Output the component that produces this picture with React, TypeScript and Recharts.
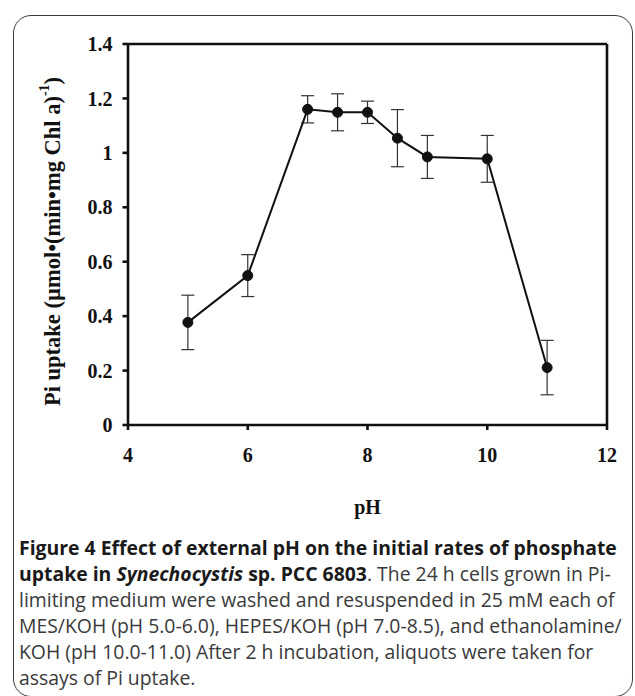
import { CartesianGrid, ErrorBar, Line, LineChart, ReferenceLine, XAxis, YAxis } from 'recharts';

// pH of the buffer and Pi uptake rate
const phValues = [5, 6, 7, 7.5, 8, 8.5, 9, 10, 11];
const uptake = [0.377, 0.549, 1.16, 1.149, 1.149, 1.054, 0.985, 0.978, 0.211];
const uptakeErr = [0.1, 0.077, 0.05, 0.068, 0.041, 0.105, 0.079, 0.086, 0.1];

const xTicks = [4, 6, 8, 10, 12];
const yTicks = [0, 0.2, 0.4, 0.6, 0.8, 1, 1.2, 1.4];

const captionLines = [
  { bold: 'Figure 4 Effect of external pH on the initial rates of phosphate', rest: '' },
  { bold: 'uptake in ', italic: 'Synechocystis', bold2: ' sp. PCC 6803', rest: '. The 24 h cells grown in Pi-' },
  { rest: 'limiting medium were washed and resuspended in 25 mM each of' },
  { rest: 'MES/KOH (pH 5.0-6.0), HEPES/KOH (pH 7.0-8.5), and ethanolamine/' },
  { rest: 'KOH (pH 10.0-11.0) After 2 h incubation, aliquots were taken for' },
  { rest: 'assays of Pi uptake.' },
];

const serif = '"Liberation Serif", "Times New Roman", serif';
const tickStyle = { fontFamily: serif, fontWeight: 700, fontSize: 20, fill: '#111' };

function YTitle({ viewBox }: any) {
  const cx = 52;
  const cy = viewBox.y + viewBox.height / 2 + 7;
  return (
    <text
      x={cx}
      y={cy}
      transform={`rotate(-90 ${cx} ${cy})`}
      textAnchor="middle"
      dominantBaseline="central"
      style={{ fontFamily: serif, fontWeight: 700, fontSize: 22.5, fill: '#111' }}
    >
      Pi uptake (µmol•(min•mg Chl a)
      <tspan dy={-8} fontSize={14}>-1</tspan>
      <tspan dy={8}>)</tspan>
    </text>
  );
}

function XTitle({ viewBox }: any) {
  return (
    <text
      x={viewBox.x + viewBox.width / 2}
      y={507}
      textAnchor="middle"
      dominantBaseline="central"
      style={{ fontFamily: serif, fontWeight: 700, fontSize: 20, fill: '#111' }}
    >
      pH
    </text>
  );
}

export default function App() {
  const data = phValues.map((ph, i) => ({ ph, v: uptake[i], err: uptakeErr[i] }));

  return (
    <div style={{ position: 'absolute', left: 0, top: 0, width: 635, height: 696, background: '#fff', overflow: 'hidden' }}>
      <div
        style={{
          position: 'absolute',
          left: 13,
          top: 15,
          width: 618,
          height: 680,
          border: '1.5px solid #3a3a3a',
          borderRadius: 18,
        }}
      />
      <div style={{ position: 'absolute', left: 0, top: 0 }}>
        <LineChart width={635} height={696} data={data} margin={{ top: 44, right: 28, bottom: 231, left: 68 }}>
          <CartesianGrid stroke="none" />
          <XAxis
            dataKey="ph"
            type="number"
            domain={[4, 12]}
            ticks={xTicks}
            height={40}
            stroke="#111"
            strokeWidth={2.6}
            tickSize={5}
            tickMargin={18}
            tick={tickStyle}
            label={<XTitle />}
          />
          <YAxis
            type="number"
            domain={[0, 1.4]}
            ticks={yTicks}
            width={60}
            stroke="#111"
            strokeWidth={2.6}
            tickSize={5.5}
            tickMargin={10}
            tick={tickStyle}
            label={<YTitle />}
          />
          <ReferenceLine y={1.4} stroke="#111" strokeWidth={2.6} />
          <ReferenceLine x={12} stroke="#111" strokeWidth={2.6} />
          <Line
            dataKey="v"
            stroke="#111"
            strokeWidth={2}
            isAnimationActive={false}
            dot={{ r: 5, fill: '#111', stroke: '#111', strokeWidth: 1 }}
          >
            <ErrorBar dataKey="err" width={6.5} stroke="#333" strokeWidth={1.2} direction="y" />
          </Line>
        </LineChart>
      </div>
      <div
        style={{
          position: 'absolute',
          left: 19,
          top: 535,
          fontFamily: '"Open Sans", sans-serif',
          fontSize: 19.4,
          lineHeight: '26px',
          color: '#3a3a3a',
          whiteSpace: 'nowrap',
        }}
      >
        {captionLines.map((l, i) => (
          <div key={i}>
            {l.bold && <b style={{ color: '#1a1a1a' }}>{l.bold}</b>}
            {l.italic && <b style={{ color: '#1a1a1a', fontStyle: 'italic' }}>{l.italic}</b>}
            {l.bold2 && <b style={{ color: '#1a1a1a' }}>{l.bold2}</b>}
            {l.rest}
          </div>
        ))}
      </div>
    </div>
  );
}
